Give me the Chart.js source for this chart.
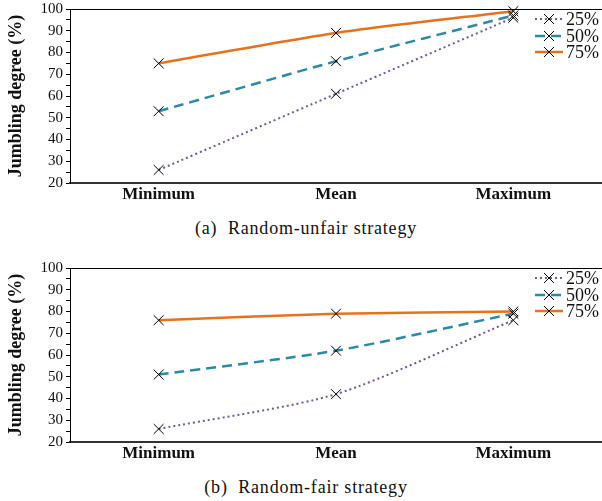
<!DOCTYPE html>
<html>
<head>
<meta charset="utf-8">
<script src="https://cdn.jsdelivr.net/npm/chart.js@4"></script>
<style>
  html, body { margin: 0; padding: 0; background: #fff; }
  body { width: 602px; height: 501px; position: relative; overflow: hidden;
         font-family: 'Liberation Serif', 'Times New Roman', Tinos, 'DejaVu Serif', serif; }
  .wrap { position: absolute; left: 0; width: 602px; height: 207px; }
  .cap { position: absolute; left: 0; width: 612px; text-align: center; font-size: 18px;
         letter-spacing: 0.8px; line-height: 20px; color: #111; }
</style>
</head>
<body>
<div class="wrap" style="top:0"><canvas id="chA" width="602" height="207"></canvas></div>
<div class="cap" style="top:218px">(a)&nbsp; Random-unfair strategy</div>
<div class="wrap" style="top:259px"><canvas id="chB" width="602" height="207"></canvas></div>
<div class="cap" style="top:477px">(b)&nbsp; Random-fair strategy</div>

<script>
  /* ---------- Data ---------- */
  const CATEGORIES = ['Minimum', 'Mean', 'Maximum'];
  const SERIES = ['25%', '50%', '75%'];

  // (a) Random-unfair
  const UNFAIR_25 = [26, 61, 96];
  const UNFAIR_50 = [53, 76, 97];
  const UNFAIR_75 = [75, 89, 99];

  // (b) Random-fair
  const FAIR_25 = [26, 42, 76];
  const FAIR_50 = [51, 62, 79];
  const FAIR_75 = [76, 79, 80];

  const Y_MIN = 20, Y_MAX = 100, Y_STEP = 5;

  /* ---------- Styling ---------- */
  const FONT = "'Liberation Serif', 'Times New Roman', Tinos, 'DejaVu Serif', serif";
  const STYLES = [
    { color: '#76589c', dash: [2, 3], width: 2 },
    { color: '#2b8aa6', dash: [10, 6], width: 2.5 },
    { color: '#e8721c', dash: [], width: 2.5 },
  ];

  // top frame line + hand-drawn legend (line with x marker, like the original)
  const framePlugin = {
    id: 'frame',
    afterDraw(chart) {
      const { ctx, chartArea: a } = chart;
      ctx.save();
      ctx.strokeStyle = '#000';
      ctx.lineWidth = 1;
      ctx.beginPath();
      ctx.moveTo(a.left, a.top + 0.5);
      ctx.lineTo(a.right, a.top + 0.5);
      ctx.stroke();

      const rows = [10, 27, 43];
      chart.data.datasets.forEach((ds, i) => {
        const y = a.top + rows[i];
        const x0 = a.right - 67, x1 = a.right - 39, xm = (x0 + x1) / 2;
        ctx.strokeStyle = ds.borderColor;
        ctx.lineWidth = ds.borderWidth;
        ctx.setLineDash(ds.borderDash);
        ctx.beginPath();
        ctx.moveTo(x0, y);
        ctx.lineTo(x1, y);
        ctx.stroke();
        ctx.setLineDash([]);
        ctx.strokeStyle = '#000';
        ctx.lineWidth = 1;
        ctx.beginPath();
        ctx.moveTo(xm - 5, y - 5); ctx.lineTo(xm + 5, y + 5);
        ctx.moveTo(xm - 5, y + 5); ctx.lineTo(xm + 5, y - 5);
        ctx.stroke();
        ctx.fillStyle = '#111';
        ctx.font = '18px ' + FONT;
        ctx.textBaseline = 'middle';
        ctx.fillText(ds.label, x1 + 3, y + 1);
      });
      ctx.restore();
    },
  };

  function makeChart(id, values) {
    return new Chart(document.getElementById(id), {
      type: 'line',
      data: {
        labels: CATEGORIES,
        datasets: values.map((vals, i) => ({
          label: SERIES[i],
          data: vals,
          borderColor: STYLES[i].color,
          borderWidth: STYLES[i].width,
          borderDash: STYLES[i].dash,
          fill: false,
          tension: 0.25,
          clip: false,
          pointStyle: 'crossRot',
          pointRadius: 7,
          pointBorderColor: '#000',
          pointBackgroundColor: '#000',
          pointBorderWidth: 1,
        })),
      },
      options: {
        responsive: false,
        animation: false,
        layout: { autoPadding: false, padding: { left: 0, right: 0, top: 9, bottom: 0 } },
        plugins: { legend: { display: false }, tooltip: { enabled: false } },
        scales: {
          x: {
            offset: true,
            grid: { display: false, drawTicks: false },
            border: { color: '#333', width: 2 },
            ticks: { color: '#111', font: { family: FONT, size: 17, weight: 'bold' }, padding: 1 },
            afterFit(s) { s.height = 24; s.paddingLeft = 0; s.paddingRight = 0; },
          },
          y: {
            min: Y_MIN,
            max: Y_MAX,
            grid: { drawOnChartArea: false, drawTicks: true, tickLength: 4, color: '#000' },
            border: { color: '#000', width: 1 },
            ticks: {
              stepSize: Y_STEP,
              autoSkip: false,
              color: '#111',
              padding: 3,
              font: { family: FONT, size: 15, lineHeight: 0.8 },
              callback: (v) => (v % 10 === 0 ? v : ''),
            },
            title: {
              display: true,
              text: 'Jumbling degree (%)',
              color: '#111',
              font: { family: FONT, size: 18, weight: 'bold' },
              padding: { top: 6, bottom: 0 },
            },
            afterFit(s) { s.width = 70; s.paddingTop = 0; s.paddingBottom = 0; },
          },
        },
      },
      plugins: [framePlugin],
    });
  }

  makeChart('chA', [UNFAIR_25, UNFAIR_50, UNFAIR_75]);
  makeChart('chB', [FAIR_25, FAIR_50, FAIR_75]);
</script>
</body>
</html>
